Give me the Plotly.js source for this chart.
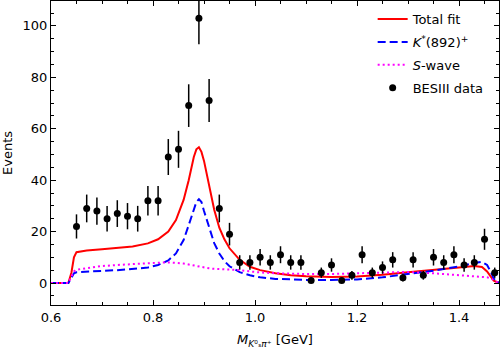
<!DOCTYPE html>
<html>
<head>
<meta charset="utf-8">
<script src="https://cdn.plot.ly/plotly-3.0.1.min.js"></script>
<style>
  html, body { margin: 0; padding: 0; background: #fff; }
  #grafico { width: 500px; height: 350px; }
</style>
</head>
<body>
<div id="grafico"></div>
<script>
// dados BESIII (contagens por bin de 0.02 GeV)
const massPoints = [0.65, 0.67, 0.69, 0.71, 0.73, 0.75, 0.77, 0.79, 0.81, 0.83, 0.85, 0.87, 0.89, 0.91,
  0.93, 0.95, 0.97, 0.99, 1.01, 1.03, 1.05, 1.07, 1.09, 1.11, 1.13, 1.15, 1.17, 1.19, 1.21, 1.23,
  1.25, 1.27, 1.29, 1.31, 1.33, 1.35, 1.37, 1.39, 1.41, 1.43, 1.45, 1.47]
const eventCounts = [22, 29, 28, 25, 27, 26, 25, 32, 32, 49, 52, 69, 103, 71,
  29, 19, 8, 8, 10, 8, 11, 8, 8, 1, 4, 7, 1, 3, 11, 4,
  6, 9, 2, 9, 3, 10, 8, 11, 7, 8, 17, 4]
const eventErrors = [4.7, 5.4, 5.3, 5.0, 5.2, 5.1, 5.0, 5.7, 5.7, 7.0, 7.2, 8.3, 10.1, 8.4,
  5.4, 4.4, 2.8, 2.8, 3.2, 2.8, 3.3, 2.8, 2.8, 1.0, 2.0, 2.6, 1.0, 1.7, 3.3, 2.0,
  2.4, 3.0, 1.4, 3.0, 1.7, 3.2, 2.8, 3.3, 2.6, 2.8, 4.1, 2.0]

// curvas do ajuste
const fitMass = [0.60, 0.634, 0.640, 0.645, 0.650, 0.67, 0.70, 0.73, 0.76, 0.79, 0.81, 0.83, 0.845,
  0.86, 0.87, 0.88, 0.885, 0.89, 0.895, 0.90, 0.91, 0.92, 0.93, 0.94, 0.95, 0.97, 0.99, 1.01,
  1.04, 1.07, 1.10, 1.15, 1.20, 1.25, 1.30, 1.35, 1.40, 1.43, 1.445, 1.455, 1.462, 1.468, 1.475, 1.48]
const totalFit = [0, 0, 4, 10, 12, 12.6, 13.1, 13.6, 14.2, 15.4, 17.0, 20.0, 24.5,
  32.3, 40, 49, 52, 52.8, 51, 47.5, 37.5, 28.5, 21.5, 17, 13.5, 9, 6.3, 5.0,
  3.8, 3.0, 2.6, 2.3, 2.5, 3.2, 4.2, 5.0, 6.0, 6.6, 6.2, 4.5, 2.5, 0.9, 0.3, 0.2]
const kStarFit = [0, 0, 2, 3.8, 4.2, 4.5, 4.7, 5.0, 5.4, 6.0, 7.0, 8.8, 11.5,
  16.7, 22.5, 29, 31.5, 32.6, 31.5, 28, 21.5, 15.5, 11.5, 8.5, 6.5, 4.2, 3.0, 2.2,
  1.6, 1.3, 1.2, 1.2, 1.4, 2.2, 3.5, 4.8, 6.4, 7.8, 8.2, 7.0, 4.5, 1.8, 0.3, 0.1]
const sWaveFit = [0, 0, 2.5, 4.5, 5.2, 5.8, 6.6, 7.0, 7.4, 7.8, 7.9, 8.0, 7.9,
  7.6, 7.2, 6.8, 6.6, 6.4, 6.2, 6.0, 5.7, 5.5, 5.4, 5.3, 5.3, 5.0, 4.5, 4.1,
  3.8, 3.6, 3.5, 3.5, 3.7, 4.0, 4.3, 3.8, 3.0, 2.6, 2.4, 2.2, 1.8, 1.0, 0.3, 0.1]

const fonte = { family: 'DejaVu Sans', size: 13, color: '#000' }

const traces = [
  {
    x: fitMass, y: totalFit, type: 'scatter', mode: 'lines', name: 'Total fit', legendgroup: 'a',
    line: { color: '#ff0000', width: 2 }
  },
  {
    x: fitMass, y: kStarFit, type: 'scatter', mode: 'lines', name: '<i>K</i><sup>*</sup>(892)<sup>+</sup>',
    legendgroup: 'b',
    line: { color: '#0000ff', width: 2, dash: '8px,4px' }
  },
  {
    x: fitMass, y: sWaveFit, type: 'scatter', mode: 'lines', name: '<i>S</i>-wave', legendgroup: 'c',
    line: { color: '#ff00ff', width: 2, dash: '2px,3px' }
  },
  {
    x: massPoints, y: eventCounts, type: 'scatter', mode: 'markers', name: 'BESIII data', legendgroup: 'd',
    marker: { color: '#000', size: 7 },
    error_y: { type: 'data', array: eventErrors, visible: true, color: '#000', thickness: 1.5, width: 0 }
  }
]

const eixo = {
  showline: true, linecolor: '#000', linewidth: 1, mirror: 'allticks',
  ticks: 'inside', ticklen: 5, tickwidth: 1, tickcolor: '#000',
  showgrid: false, zeroline: false, tickfont: fonte
}

const layout = {
  width: 500, height: 350,
  margin: { l: 51, r: 1, t: 1, b: 45 },
  paper_bgcolor: '#fff', plot_bgcolor: '#fff',
  font: fonte,
  showlegend: true,
  legend: {
    x: 0.718, y: 0.99, xanchor: 'left', yanchor: 'top',
    traceorder: 'grouped', tracegroupgap: 3,
    bgcolor: 'rgba(255,255,255,0)', borderwidth: 0, font: fonte
  },
  xaxis: Object.assign({}, eixo, {
    range: [0.6, 1.4784], tickvals: [0.6, 0.8, 1.0, 1.2, 1.4],
    ticktext: ['0.6', '0.8', '1.0', '1.2', '1.4'],
    minor: { dtick: 0.05, ticks: 'inside', ticklen: 3, tickcolor: '#000', showgrid: false },
    title: { text: '<i>M</i><sub><i>K</i>⁰ₛ<i>π</i>⁺</sub> [GeV]', font: fonte, standoff: 11 }
  }),
  yaxis: Object.assign({}, eixo, {
    range: [-8.56, 109.7], tickvals: [0, 20, 40, 60, 80, 100],
    minor: { dtick: 5, ticks: 'inside', ticklen: 3, tickcolor: '#000', showgrid: false },
    title: { text: 'Events', font: fonte, standoff: 8 }
  })
}

Plotly.newPlot('grafico', traces, layout, { staticPlot: true })
</script>
</body>
</html>
